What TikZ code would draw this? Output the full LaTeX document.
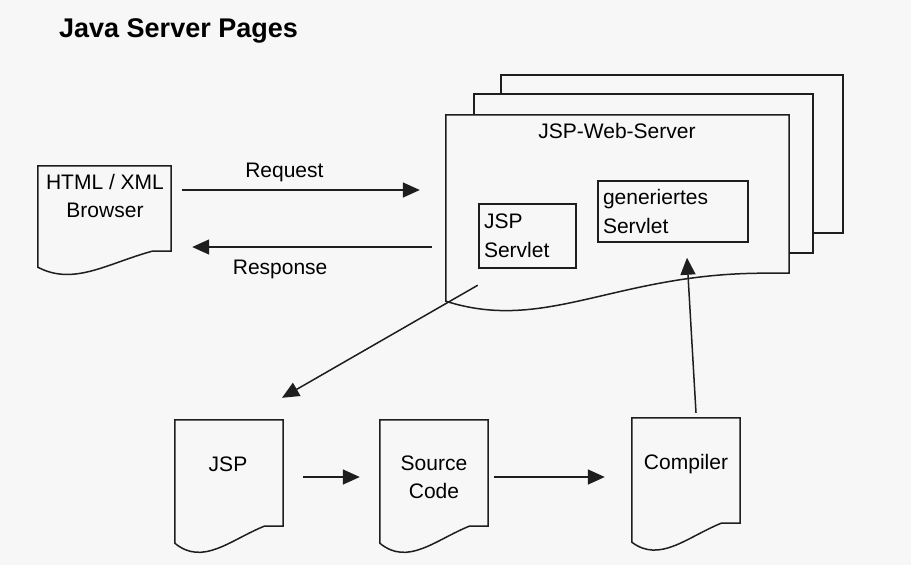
\documentclass[tikz,border=0pt]{standalone}
\usepackage{fontspec}
\setmainfont{Liberation Sans}
\usetikzlibrary{arrows.meta,calc}
\definecolor{bg}{RGB}{247,247,247}
\definecolor{ink}{RGB}{30,30,30}
% document outline: #1 node, #2 left drop, #3 control 1, #4 control 2, #5 flat part at right
\newcommand\wavedoc[5]{%
  \draw[ln, fill=bg] (#1.south east) -- (#1.north east) -- (#1.north west)
    -- ([shift={(0,#2)}]#1.south west)
    .. controls ([shift={#3}]#1.south west) and ([shift={#4}]#1.south west)
    .. ([shift={(-#5,0)}]#1.south east) -- cycle;}
\begin{document}
\begin{tikzpicture}[x=1pt,y=-1pt,
  ln/.style={draw=ink, line width=1.5pt, line join=miter},
  body/.style={rectangle, inner sep=0pt},
  arr/.style={draw=ink, line width=1.5pt, -{Triangle[length=17pt,width=15pt]}},
  txt/.style={inner sep=0pt, text=black, font=\fontsize{21}{28.5}\selectfont},
  boxtxt/.style={ln, fill=bg, rectangle, inner sep=0pt, align=left, text=black,
                 font=\fontsize{21}{28.5}\selectfont}]
\useasboundingbox[fill=bg] (0,0) rectangle (911,565);

% title
\node[inner sep=0pt, anchor=base west, font=\bfseries\fontsize{27}{31}\selectfont] (title) at (59,37) {Java Server Pages};

% server stack
\node[body, ln, fill=bg, minimum width=342pt, minimum height=158pt] (srv3) at (672,154) {};
\node[body, ln, fill=bg, minimum width=339pt, minimum height=159pt] (srv2) at (643.5,173.5) {};
\node[body, minimum width=343pt, minimum height=158pt] (server) at (617.5,194) {};
\wavedoc{server}{28}{(100,60)}{(170,0)}{25}
\node[txt, anchor=base] (servertitle) at (617,138) {JSP-Web-Server};
\node[boxtxt, minimum width=97pt, minimum height=64pt, text width=87pt] (jspservlet) at (527.5,236) {JSP\\Servlet};
\node[boxtxt, minimum width=150pt, minimum height=61pt, text width=140pt] (gen) at (673,211.5) {generiertes\\Servlet};

% browser
\node[body, minimum width=133pt, minimum height=85pt] (browser) at (104.5,208.5) {};
\wavedoc{browser}{16}{(36,35)}{(70,12)}{19}
\node[txt, anchor=north, align=center] (browsertxt) at (105,173.7) {HTML / XML\\Browser};

% bottom documents
\node[body, minimum width=108pt, minimum height=106pt] (jsp) at (229,473) {};
\wavedoc{jsp}{17}{(28,40)}{(55,14)}{19}
\node[txt, anchor=base] (jsptxt) at (228,471) {JSP};

\node[body, minimum width=108pt, minimum height=106pt] (src) at (434,473) {};
\wavedoc{src}{17}{(28,40)}{(55,14)}{19}
\node[txt, anchor=north, align=center] (srctxt) at (434,455.5) {Source\\Code};

\node[body, minimum width=108pt, minimum height=105pt] (comp) at (686,470.5) {};
\wavedoc{comp}{19}{(28,40)}{(55,14)}{19}
\node[txt, anchor=base] (comptxt) at (686,469) {Compiler};

% connectors
\draw[arr] ($(browser.east)+(11,-18.5)$) -- ($(server.west)+(-26,-4)$)
  node[txt, pos=0.43, anchor=base, yshift=13pt] (reqlbl) {Request};
\draw[arr] ($(server.west)+(-14,53)$) -- ($(browser.east)+(21,38.5)$)
  node[txt, pos=0.633, anchor=base, yshift=-27pt] (resplbl) {Response};
\draw[arr] ($(server.south west)+(32,12)$) -- ($(jsp.north)+(53,-22)$);
\draw[arr] ($(jsp.east)+(20,4)$) -- ($(src.west)+(-20,4)$);
\draw[arr] ($(src.east)+(6,4)$) -- ($(comp.west)+(-27,6.5)$);
\draw[arr] ($(comp.north)+(10,-5)$) -- ($(gen.south)+(14,15)$);
\end{tikzpicture}
\end{document}
